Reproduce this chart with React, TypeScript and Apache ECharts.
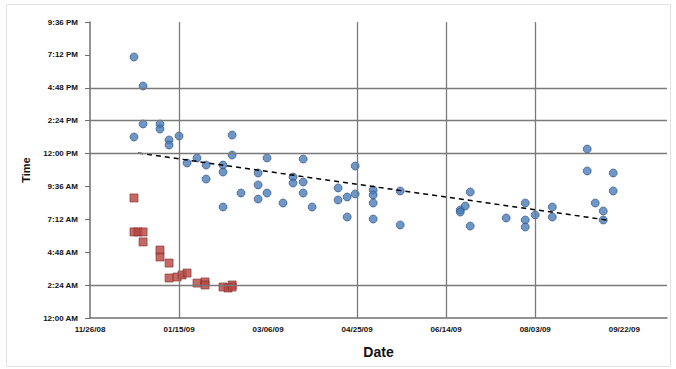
import React, { useEffect, useRef } from "react";
import * as echarts from "echarts";

// x values: days since first tick; y values: time of day in hours
const xTickLabels = ["11/26/08", "01/15/09", "03/06/09", "04/25/09", "06/14/09", "08/03/09", "09/22/09"];
const yTickLabels = ["12:00 AM", "2:24 AM", "4:48 AM", "7:12 AM", "9:36 AM", "12:00 PM", "2:24 PM", "4:48 PM", "7:12 PM", "9:36 PM"];

const blueDays = [
  24.7, 29.8, 29.8, 24.7, 39.3, 39.3, 44.4, 44.4, 50.0, 54.5, 60.1, 65.2, 65.2, 79.8, 79.8, 74.7,
  74.7, 74.7, 84.8, 94.4, 94.4, 94.4, 99.4, 99.4, 108.4, 114.0, 114.0, 119.7, 119.7, 119.7, 124.7,
  139.3, 139.3, 144.4, 144.4, 148.9, 148.9, 159.0, 159.0, 159.0, 159.0, 174.2, 174.2, 207.9, 207.9,
  210.7, 213.5, 213.5, 233.7, 244.4, 244.4, 244.4, 250.0, 259.6, 259.6, 279.2, 279.2, 283.7, 288.2,
  288.2, 293.8, 293.8,
];
const blueHours = [
  19.05, 16.93, 14.16, 13.21, 14.16, 13.79, 12.99, 12.62, 13.28, 11.31, 11.68, 11.16, 10.14, 13.35,
  11.89, 11.16, 10.65, 8.1, 9.12, 10.58, 9.71, 8.68, 9.12, 11.68, 8.39, 10.29, 9.85, 11.6, 9.92, 9.12,
  8.1, 9.49, 8.61, 8.83, 7.37, 11.09, 9.05, 9.34, 8.98, 8.39, 7.22, 9.27, 6.79, 7.88, 7.73, 8.17, 9.19,
  6.71, 7.3, 8.39, 7.15, 6.64, 7.52, 8.1, 7.37, 12.33, 10.73, 8.39, 7.81, 7.15, 10.58, 9.27,
];

const redDays = [24.7, 24.7, 27.0, 29.8, 29.8, 39.3, 39.3, 44.4, 44.4, 48.9, 51.7, 54.5, 60.1, 64.6, 64.6, 74.7, 77.5, 79.8, 79.8];
const redHours = [8.76, 6.28, 6.28, 6.28, 5.55, 4.96, 4.45, 4.01, 2.92, 2.99, 3.14, 3.28, 2.55, 2.63, 2.41, 2.26, 2.19, 2.41, 2.26];

const trendDays = [27.0, 290.4];
const trendHours = [12.04, 7.15];

// gridlines visible in the reference
const gridHours = [2.4, 12, 14.4, 16.8];
const gridDays = [50, 150, 200, 250];

export default function App() {
  const ref = useRef<HTMLDivElement>(null);
  useEffect(() => {
    if (!ref.current) return;
    const chart = echarts.init(ref.current, null, { renderer: "svg" });
    const labelStyle = { fontFamily: "Liberation Sans, Arial", fontWeight: "bold" as const, fontSize: 8, color: "#111" };
    chart.setOption({
      animation: false,
      backgroundColor: "#ffffff",
      graphic: [
        {
          type: "rect",
          shape: { x: 6.5, y: 4.5, width: 664, height: 362 },
          style: { fill: "none", stroke: "#e2e2e2", lineWidth: 1 },
          silent: true,
        },
      ],
      grid: { left: 90, right: 9, top: 22, bottom: 51, containLabel: false },
      xAxis: {
        type: "value",
        min: 0,
        max: 324,
        interval: 50,
        name: "Date",
        nameLocation: "middle",
        nameGap: 27,
        nameTextStyle: { fontFamily: "Liberation Sans, Arial", fontWeight: "bold", fontSize: 14, color: "#111" },
        axisLine: { show: true, onZero: false, lineStyle: { color: "#6f6f6f", width: 1.5 } },
        axisTick: { show: false },
        splitLine: { show: false },
        axisLabel: {
          ...labelStyle,
          margin: 7,
          showMaxLabel: false,
          formatter: (v: number) => {
            const i = Math.round(v / 50);
            return Math.abs(v - i * 50) < 1e-6 && xTickLabels[i] ? xTickLabels[i] : "";
          },
        },
      },
      yAxis: {
        type: "value",
        min: 0,
        max: 21.6,
        interval: 2.4,
        name: "Time",
        nameLocation: "middle",
        nameGap: 50,
        nameTextStyle: { fontFamily: "Liberation Sans, Arial", fontWeight: "bold", fontSize: 11, color: "#111" },
        axisLine: { show: true, lineStyle: { color: "#6f6f6f", width: 1.5 } },
        axisTick: { show: true, length: 5, lineStyle: { color: "#6f6f6f" } },
        splitLine: { show: false },
        axisLabel: {
          ...labelStyle,
          margin: 12,
          formatter: (v: number) => yTickLabels[Math.round(v / 2.4)] ?? "",
        },
      },
      series: [
        {
          type: "line",
          data: [],
          z: 1,
          markLine: {
            silent: true,
            symbol: "none",
            label: { show: false },
            lineStyle: { color: "#7a7a7a", width: 1.3, type: "solid" },
            data: [
              ...gridHours.map((h) => ({ yAxis: h })),
              ...gridDays.map((d) => ({ xAxis: d })),
            ],
          },
        },
        {
          name: "Blue",
          type: "scatter",
          z: 3,
          symbol: "circle",
          symbolSize: 8,
          itemStyle: { color: "#4a7cb8", borderColor: "#2a4f7e", borderWidth: 0.8 },
          data: blueDays.map((d, i) => [d, blueHours[i]]),
        },
        {
          name: "Red",
          type: "scatter",
          z: 3,
          symbol: "rect",
          symbolSize: 8,
          itemStyle: { color: "#b8443f", borderColor: "#7e2e2b", borderWidth: 0.8 },
          data: redDays.map((d, i) => [d, redHours[i]]),
        },
        {
          name: "Trend",
          type: "line",
          z: 4,
          symbol: "none",
          lineStyle: { color: "#000", width: 1.5, type: [5, 4] },
          data: trendDays.map((d, i) => [d, trendHours[i]]),
        },
      ],
    });
    return () => chart.dispose();
  }, []);
  return (
    <div
      ref={ref}
      style={{ position: "fixed", left: 0, top: 0, width: 676, height: 369 }}
    />
  );
}
